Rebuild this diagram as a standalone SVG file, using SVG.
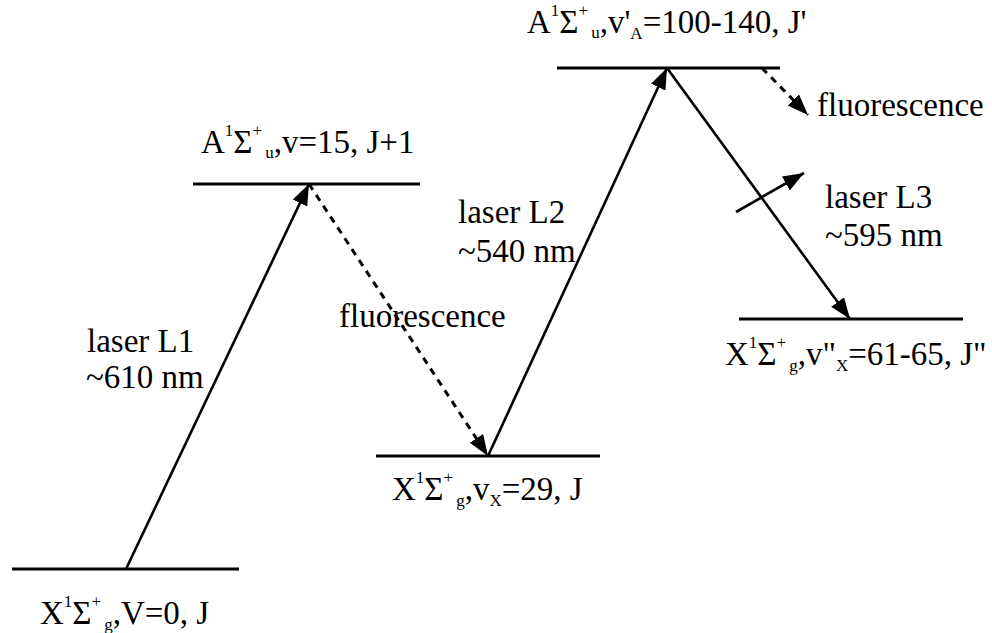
<svg xmlns="http://www.w3.org/2000/svg" width="992" height="633" viewBox="0 0 992 633">
<style>
.t{font-family:'Times New Roman','Liberation Serif',Tinos,'DejaVu Serif',serif;font-size:33px;fill:#000}
.s{font-size:17px}
.lvl{stroke:#000;stroke-width:3;fill:none}
.ar{stroke:#000;stroke-width:2.6;fill:none;marker-end:url(#ah)}
.da{stroke:#000;stroke-width:3;fill:none;stroke-dasharray:7 6;marker-end:url(#ah)}
</style>
<defs>
<marker id="ah" markerUnits="userSpaceOnUse" markerWidth="24" markerHeight="18" refX="21" refY="8" orient="auto">
<path d="M0,0 L21,8 L0,16 z" fill="#000"/>
</marker>
</defs>
<rect width="992" height="633" fill="#fff"/>
<g id="level-X-v0">
<line class="lvl" x1="12" y1="569" x2="239" y2="569"/>
<text class="t" x="40" y="624">X<tspan class="s" dy="-17">1</tspan><tspan dy="17">Σ</tspan><tspan class="s" dy="-17">+</tspan><tspan class="s" dx="3" dy="23">g</tspan><tspan dy="-6">,V=0, J</tspan></text>
</g>
<g id="level-A-v15">
<line class="lvl" x1="193" y1="184" x2="420" y2="184"/>
<text class="t" x="201" y="153">A<tspan class="s" dy="-17">1</tspan><tspan dy="17">Σ</tspan><tspan class="s" dy="-17">+</tspan><tspan class="s" dx="3" dy="22">u</tspan><tspan dy="-5">,v=15, J+1</tspan></text>
</g>
<g id="level-X-v29">
<line class="lvl" x1="376" y1="456" x2="600" y2="456"/>
<text class="t" x="392" y="500">X<tspan class="s" dy="-17">1</tspan><tspan dy="17">Σ</tspan><tspan class="s" dy="-17">+</tspan><tspan class="s" dx="3" dy="23">g</tspan><tspan dy="-6">,v</tspan><tspan class="s" dy="6">X</tspan><tspan dy="-6">=29, J</tspan></text>
</g>
<g id="level-A-v100">
<line class="lvl" x1="557" y1="68" x2="780" y2="68"/>
<text class="t" x="527" y="33">A<tspan class="s" dy="-17">1</tspan><tspan dy="17">Σ</tspan><tspan class="s" dy="-17">+</tspan><tspan class="s" dx="3" dy="22">u</tspan><tspan dy="-5">,v'</tspan><tspan class="s" dy="6">A</tspan><tspan dy="-6">=100-140, J'</tspan></text>
</g>
<g id="level-X-v61">
<line class="lvl" x1="739" y1="319" x2="963" y2="319"/>
<text class="t" x="725" y="365">X<tspan class="s" dy="-17">1</tspan><tspan dy="17">Σ</tspan><tspan class="s" dy="-17">+</tspan><tspan class="s" dx="3" dy="23">g</tspan><tspan dy="-6">,v"</tspan><tspan class="s" dy="6">X</tspan><tspan dy="-6">=61-65, J"</tspan></text>
</g>
<g id="connectors">
<line class="ar" x1="126" y1="569" x2="309" y2="184"/>
<line class="da" x1="309" y1="184" x2="488" y2="456"/>
<line class="ar" x1="488" y1="456" x2="667" y2="68"/>
<line class="ar" x1="667" y1="68" x2="850" y2="319"/>
<line class="da" x1="762" y1="68" x2="808" y2="115"/>
<line class="ar" x1="736" y1="212" x2="804" y2="173"/>
</g>
<g id="labels">
<text class="t" x="87" y="352">laser L1</text>
<text class="t" x="86" y="388">~610 nm</text>
<text class="t" x="339" y="327">fluorescence</text>
<text class="t" x="458" y="223">laser L2</text>
<text class="t" x="458" y="262">~540 nm</text>
<text class="t" x="825" y="208">laser L3</text>
<text class="t" x="825" y="246">~595 nm</text>
<text class="t" x="817" y="116">fluorescence</text>
</g>
</svg>
